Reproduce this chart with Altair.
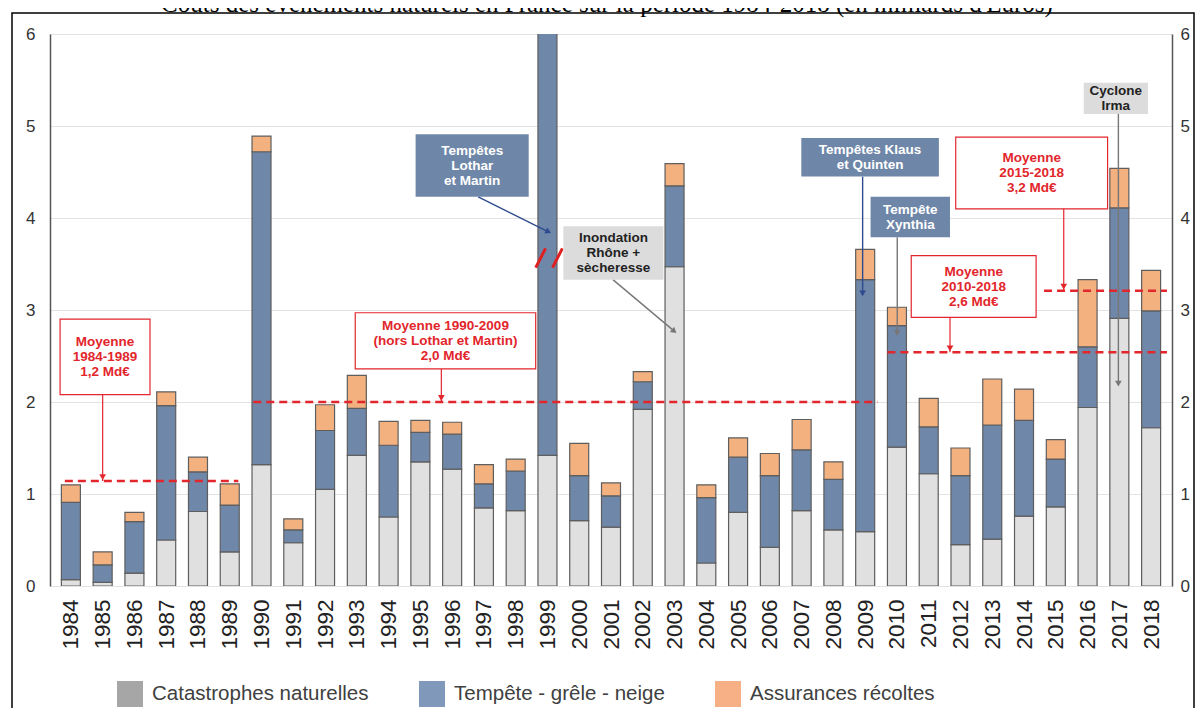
import math
import altair as alt
import pandas as pd

# ---------------- data ----------------
years = list(range(1984, 2019))
cat_nat = [0.07, 0.04, 0.14, 0.50, 0.81, 0.37, 1.32, 0.47, 1.05, 1.42,
           0.75, 1.35, 1.27, 0.85, 0.82, 1.42, 0.71, 0.64, 1.92, 3.47,
           0.25, 0.80, 0.42, 0.82, 0.61, 0.59, 1.51, 1.22, 0.45, 0.51,
           0.76, 0.86, 1.94, 2.91, 1.72]
tempete = [0.84, 0.19, 0.56, 1.46, 0.43, 0.51, 3.40, 0.14, 0.64, 0.51,
           0.78, 0.32, 0.38, 0.26, 0.43, 5.40, 0.49, 0.34, 0.30, 0.88,
           0.71, 0.60, 0.78, 0.66, 0.55, 2.74, 1.32, 0.51, 0.75, 1.24,
           1.04, 0.52, 0.66, 1.20, 1.27]
recoltes = [0.19, 0.14, 0.10, 0.15, 0.16, 0.23, 0.17, 0.12, 0.28, 0.36,
            0.26, 0.13, 0.13, 0.21, 0.13, 0.15, 0.35, 0.14, 0.11, 0.24,
            0.14, 0.21, 0.24, 0.33, 0.19, 0.33, 0.20, 0.31, 0.30, 0.50,
            0.34, 0.21, 0.73, 0.43, 0.44]
series = ["Catastrophes naturelles", "Tempête - grêle - neige", "Assurances récoltes"]
y_ticks = [0, 1, 2, 3, 4, 5, 6]
title_text = "Coûts des évènements naturels en France sur la période 1984-2018 (en milliards d'Euros)"

# average lines and their boxes (data coordinates)
avg_labels = ["Moyenne\n1984-1989\n1,2 Md€",
              "Moyenne 1990-2009\n(hors Lothar et Martin)\n2,0 Md€",
              "Moyenne\n2010-2018\n2,6 Md€",
              "Moyenne\n2015-2018\n3,2 Md€"]
avg_values = [1.14, 2.0, 2.54, 3.21]
avg_start = [1983.81, 1989.74, 2009.70, 2014.63]
avg_end = [1989.27, 2009.39, 2018.5, 2018.5]
avg_box_x1 = [1983.66, 1992.95, 2010.45, 2011.85]
avg_box_x2 = [1986.49, 1998.63, 2014.38, 2016.63]
avg_box_y1 = [2.08, 2.36, 2.92, 4.10]
avg_box_y2 = [2.90, 2.97, 3.59, 4.88]
avg_arrow_x = [1985.0, 1995.66, 2011.67, 2015.25]

# event call-outs
ev_labels = ["Tempêtes\nLothar\net Martin", "Inondation\nRhône +\nsècheresse",
             "Tempêtes Klaus\net Quinten", "Tempête\nXynthia", "Cyclone\nIrma"]
ev_kind = ["tempete", "autre", "tempete", "tempete", "autre"]
ev_arrow_kind = ["tempete", "autre", "tempete", "autre", "autre"]
ev_box_x1 = [1994.85, 1999.50, 2006.99, 2009.17, 2015.88]
ev_box_x2 = [1998.41, 2002.65, 2011.32, 2011.67, 2017.90]
ev_box_y1 = [4.23, 3.33, 4.45, 3.79, 5.13]
ev_box_y2 = [4.91, 3.91, 4.87, 4.23, 5.47]
ev_arrow_x1 = [1996.82, 2001.06, 2008.92, 2010.01, 2016.97]
ev_arrow_y1 = [4.23, 3.33, 4.45, 3.79, 5.13]
ev_arrow_x2 = [1999.03, 2002.99, 2008.92, 2010.01, 2016.97]
ev_arrow_y2 = [3.85, 2.77, 3.18, 2.75, 2.20]

# axis-break marks on the 1999 bar
brk_x1 = [1998.63, 1999.16]
brk_x2 = [1998.94, 1999.47]
brk_y1 = [3.46, 3.46]
brk_y2 = [3.67, 3.67]

# ---------------- layout / style ----------------
W, H = 1122, 552
X_DOMAIN = [1983.5, 2018.5]
Y_DOMAIN = [0, 6]
bar_colors = ["#e0e0e0", "#6f87a9", "#f3b180"]
legend_colors = ["#a6a6a6", "#8098b9", "#f7b085"]
RED = "#e2262c"
FONT = "Liberation Sans"
LINE_H = 15

xscale = alt.Scale(domain=X_DOMAIN, nice=False, zero=False)
x_axis = alt.Axis(values=years, format="d", labelAngle=-90, ticks=False, domain=False,
                  grid=False, labelPadding=13, labelFontSize=22.5, labelFont=FONT,
                  labelColor="#222", labelOverlap=False, labelFlush=False, title=None)


def X(field):
    return alt.X(field, scale=xscale, axis=x_axis, title=None)


def ysc():
    return alt.Scale(domain=Y_DOMAIN, nice=False, zero=True)


px_per_year = W / (X_DOMAIN[1] - X_DOMAIN[0])
px_per_unit = H / (Y_DOMAIN[1] - Y_DOMAIN[0])


def first_line_y(center, label):
    n = label.count("\n") + 1
    return center + (n - 1) / 2 * LINE_H / px_per_unit


# ---------------- tables ----------------
rows = []
for i, y in enumerate(years):
    for k, (s, v) in enumerate(zip(series, [cat_nat[i], tempete[i], recoltes[i]])):
        rows.append({"annee": y, "serie": s, "valeur": v, "ordre": k})
bars_df = pd.DataFrame(rows)

avg_df = pd.DataFrame({
    "label": avg_labels, "v": avg_values, "x1": avg_start, "x2": avg_end,
    "bx1": avg_box_x1, "bx2": avg_box_x2, "by1": avg_box_y1, "by2": avg_box_y2,
    "ax": avg_arrow_x,
})
avg_df["tx"] = (avg_df.bx1 + avg_df.bx2) / 2
avg_df["ty"] = [first_line_y((a + b) / 2, l) for a, b, l in zip(avg_df.by1, avg_df.by2, avg_df.label)]

ev_df = pd.DataFrame({
    "label": ev_labels, "kind": ev_kind, "akind": ev_arrow_kind,
    "bx1": ev_box_x1, "bx2": ev_box_x2, "by1": ev_box_y1, "by2": ev_box_y2,
    "ax1": ev_arrow_x1, "ay1": ev_arrow_y1, "ax2": ev_arrow_x2, "ay2": ev_arrow_y2,
})
ev_df["tx"] = (ev_df.bx1 + ev_df.bx2) / 2
ev_df["ty"] = [first_line_y((a + b) / 2, l) for a, b, l in zip(ev_df.by1, ev_df.by2, ev_df.label)]
ev_df["angle"] = [
    (math.degrees(math.atan2((b - a) * px_per_year, (d - c) * px_per_unit)) + 360) % 360
    for a, b, c, d in zip(ev_df.ax1, ev_df.ax2, ev_df.ay1, ev_df.ay2)
]

brk_df = pd.DataFrame({"x1": brk_x1, "x2": brk_x2, "y1": brk_y1, "y2": brk_y2})
legend_df = pd.DataFrame({"serie": series})
one = pd.DataFrame({"t": [title_text]})

# ---------------- layers ----------------
frame = alt.Chart(one).mark_rect(fillOpacity=0, stroke="#000", strokeWidth=1.5).encode(
    x=alt.value(-38), x2=alt.value(1144), y=alt.value(-21), y2=alt.value(720)
)

title = alt.Chart(one).mark_text(
    font="Liberation Serif", fontSize=25, color="#000", align="center", baseline="alphabetic"
).encode(x=alt.value(557), y=alt.value(-22), text="t:N")

bars = alt.Chart(bars_df).mark_bar(size=19, clip=True, stroke="#5e5e5e", strokeWidth=1.2).encode(
    x=X("annee:Q"),
    y=alt.Y("valeur:Q", stack="zero", scale=ysc(), title=None,
            axis=alt.Axis(orient="left", values=y_ticks, ticks=False, grid=True,
                          gridColor="#e3e3e3", domain=True, domainColor="#555",
                          domainWidth=1.5, labelPadding=15, labelFontSize=17,
                          labelFont=FONT, labelColor="#333")),
    fill=alt.Fill("serie:N", scale=alt.Scale(domain=series, range=bar_colors), legend=None),
    order=alt.Order("ordre:Q", sort="ascending"),
)

avg_lines = alt.Chart(avg_df).mark_rule(color=RED, strokeWidth=2.5, strokeDash=[8, 5]).encode(
    x=X("x1:Q"), x2="x2:Q",
    y=alt.Y("v:Q", scale=ysc(), title=None,
            axis=alt.Axis(orient="right", values=y_ticks, ticks=False, grid=False,
                          domain=True, domainColor="#555", domainWidth=1.5,
                          labelPadding=8, labelFontSize=17, labelFont=FONT,
                          labelColor="#333")),
)

avg_boxes = alt.Chart(avg_df).mark_rect(fill="white", stroke=RED, strokeWidth=1.2).encode(
    x=X("bx1:Q"), x2="bx2:Q",
    y=alt.Y("by1:Q", scale=ysc(), axis=None), y2="by2:Q",
)

avg_text = alt.Chart(avg_df).mark_text(
    font=FONT, fontWeight="bold", fontSize=13.5, color=RED, lineBreak="\n", lineHeight=LINE_H,
    baseline="middle", align="center"
).encode(
    x=X("tx:Q"),
    y=alt.Y("ty:Q", scale=ysc(), axis=None),
    text="label:N",
)

avg_arrows = alt.Chart(avg_df).mark_rule(color=RED, strokeWidth=1.2).encode(
    x=X("ax:Q"),
    y=alt.Y("by1:Q", scale=ysc(), axis=None), y2="v:Q",
)

avg_heads = alt.Chart(avg_df).mark_point(shape="triangle-down", filled=True, size=45,
                                         color=RED, opacity=1, yOffset=-4).encode(
    x=X("ax:Q"),
    y=alt.Y("v:Q", scale=ysc(), axis=None),
)

ev_boxes = alt.Chart(ev_df).mark_rect(strokeWidth=0).encode(
    x=X("bx1:Q"), x2="bx2:Q",
    y=alt.Y("by1:Q", scale=ysc(), axis=None), y2="by2:Q",
    fill=alt.Fill("kind:N", scale=alt.Scale(domain=["tempete", "autre"],
                                            range=["#6e86a8", "#dcdcdc"]), legend=None),
)

ev_text = alt.Chart(ev_df).mark_text(
    font=FONT, fontWeight="bold", fontSize=13.5, lineBreak="\n", lineHeight=LINE_H,
    baseline="middle", align="center"
).encode(
    x=X("tx:Q"),
    y=alt.Y("ty:Q", scale=ysc(), axis=None),
    text="label:N",
    stroke=alt.value(None),
    fill=alt.Fill("kind:N", scale=alt.Scale(domain=["tempete", "autre"],
                                            range=["#ffffff", "#222222"]), legend=None),
)

arrow_color = alt.Scale(domain=["tempete", "autre"], range=["#2d4b8e", "#777777"])

ev_arrows = alt.Chart(ev_df).mark_rule(strokeWidth=1.4).encode(
    x=X("ax1:Q"), x2="ax2:Q",
    y=alt.Y("ay1:Q", scale=ysc(), axis=None), y2="ay2:Q",
    stroke=alt.Stroke("akind:N", scale=arrow_color, legend=None),
)

ev_heads = alt.Chart(ev_df).mark_point(shape="triangle-up", filled=True, size=45, opacity=1,
                                       strokeWidth=0).encode(
    x=X("ax2:Q"),
    y=alt.Y("ay2:Q", scale=ysc(), axis=None),
    angle=alt.Angle("angle:Q", scale=None),
    stroke=alt.Stroke("akind:N", scale=arrow_color, legend=None),
    fill=alt.Fill("akind:N", scale=arrow_color, legend=None),
)

breaks = alt.Chart(brk_df).mark_rule(color="#e02020", strokeWidth=3).encode(
    x=X("x1:Q"), x2="x2:Q",
    y=alt.Y("y1:Q", scale=ysc(), axis=None), y2="y2:Q",
)

legend_layer = alt.Chart(legend_df).mark_square(size=0, opacity=1).encode(
    color=alt.Color("serie:N", scale=alt.Scale(domain=series, range=legend_colors),
                    legend=alt.Legend(orient="none", legendX=67, legendY=647,
                                      direction="horizontal", title=None,
                                      symbolType="square", symbolSize=676,
                                      symbolOpacity=1, symbolStrokeWidth=0,
                                      labelFont=FONT, labelFontSize=20.5,
                                      labelColor="#404040", labelOffset=9,
                                      columnPadding=50, labelLimit=400)),
)

chart = alt.layer(
    frame, bars, avg_lines, breaks, avg_boxes, avg_text, avg_arrows, avg_heads,
    ev_arrows, ev_heads, ev_boxes, ev_text, legend_layer, title
).resolve_scale(
    y="independent", fill="independent", color="independent", stroke="independent"
).properties(
    width=W, height=H,
    autosize=alt.AutoSizeParams(type="none"),
    padding={"left": 42, "top": 26, "right": 23, "bottom": 122},
).configure_view(stroke="#8c8c8c", strokeWidth=1.2).configure(background="white")

chart.save("out.html", embed_options={"renderer": "svg", "actions": False})
